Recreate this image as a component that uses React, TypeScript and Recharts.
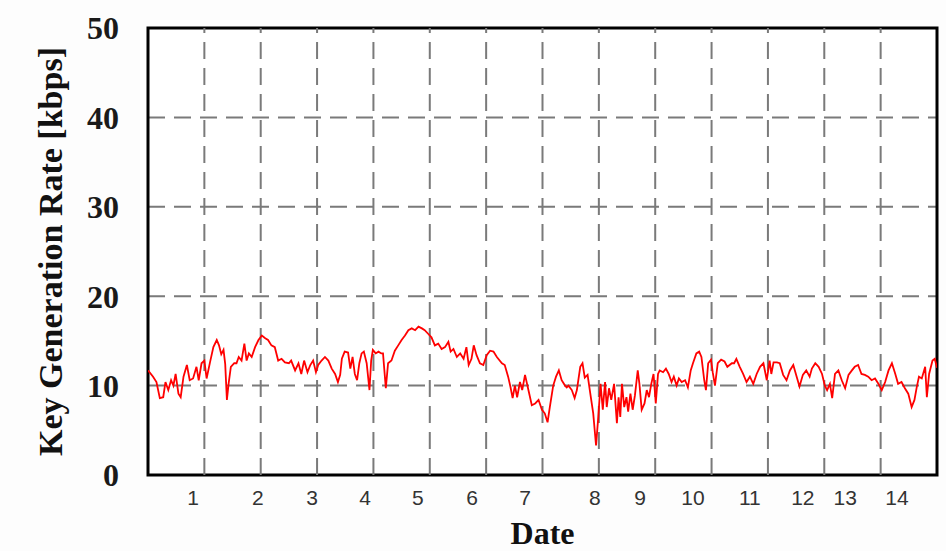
import {
  LineChart,
  Line,
  XAxis,
  YAxis,
  CartesianGrid,
  ReferenceArea,
  ReferenceLine,
} from 'recharts';

// Elapsed time (grid units) and key rate [kbps]
const elapsed = [
  0.0, 0.09, 0.15, 0.21, 0.27, 0.31, 0.36, 0.41, 0.45, 0.49, 0.54, 0.58, 0.63, 0.69, 0.74, 0.8,
  0.86, 0.9, 0.95, 1.0, 1.04, 1.1, 1.16, 1.22, 1.26, 1.3, 1.34, 1.37, 1.4, 1.43, 1.47, 1.53,
  1.57, 1.61, 1.66, 1.71, 1.75, 1.79, 1.84, 1.9, 1.96, 2.02, 2.08, 2.13, 2.19, 2.25, 2.31, 2.37,
  2.43, 2.5, 2.54, 2.61, 2.67, 2.72, 2.77, 2.83, 2.88, 2.93, 2.98, 3.02, 3.08, 3.14, 3.2, 3.26,
  3.32, 3.37, 3.41, 3.44, 3.49, 3.55, 3.59, 3.63, 3.67, 3.71, 3.75, 3.79, 3.83, 3.88, 3.93, 3.96,
  3.99, 4.04, 4.09, 4.14, 4.17, 4.22, 4.26, 4.32, 4.38, 4.44, 4.5, 4.56, 4.62, 4.68, 4.74, 4.8,
  4.86, 4.91, 4.97, 5.03, 5.09, 5.15, 5.21, 5.27, 5.33, 5.37, 5.42, 5.48, 5.54, 5.6, 5.65, 5.69,
  5.74, 5.78, 5.83, 5.89, 5.95, 6.01, 6.07, 6.13, 6.19, 6.28, 6.33, 6.39, 6.43, 6.47, 6.51, 6.55,
  6.6, 6.64, 6.69, 6.75, 6.81, 6.87, 6.93, 6.99, 7.04, 7.09, 7.13, 7.19, 7.24, 7.29, 7.34, 7.4,
  7.43, 7.46, 7.52, 7.57, 7.61, 7.67, 7.71, 7.75, 7.8, 7.86, 7.9, 7.95, 7.99, 8.03, 8.07, 8.11,
  8.14, 8.18, 8.22, 8.27, 8.32, 8.35, 8.38, 8.41, 8.45, 8.49, 8.52, 8.56, 8.6, 8.64, 8.69, 8.72,
  8.76, 8.81, 8.85, 8.89, 8.93, 8.97, 9.01, 9.05, 9.08, 9.14, 9.19, 9.24, 9.29, 9.33, 9.38, 9.42,
  9.47, 9.53, 9.58, 9.63, 9.67, 9.73, 9.78, 9.82, 9.87, 9.9, 9.94, 9.99, 10.02, 10.06, 10.11, 10.17,
  10.23, 10.28, 10.36, 10.4, 10.44, 10.5, 10.56, 10.62, 10.68, 10.74, 10.8, 10.86, 10.92, 10.98, 11.03, 11.06,
  11.1, 11.16, 11.21, 11.27, 11.33, 11.39, 11.45, 11.51, 11.56, 11.62, 11.68, 11.74, 11.78, 11.84, 11.9, 11.96,
  12.01, 12.05, 12.1, 12.14, 12.19, 12.25, 12.31, 12.37, 12.43, 12.49, 12.54, 12.6, 12.66, 12.72, 12.78, 12.84,
  12.9, 12.96, 13.02, 13.08, 13.14, 13.2, 13.26, 13.31, 13.37, 13.43, 13.49, 13.55, 13.6, 13.64, 13.68, 13.73,
  13.79, 13.82, 13.86, 13.92, 13.96, 14.0,
];

const keyRate = [
  11.7, 11.0, 10.4, 8.6, 8.7, 10.4, 9.5, 10.6, 10.0, 11.3, 9.1, 8.7, 11.0, 12.3, 10.6, 10.8,
  12.1, 10.6, 12.5, 12.8, 10.8, 12.6, 14.3, 15.1, 14.5, 13.5, 14.0, 12.4, 8.4, 10.2, 12.1, 12.5,
  12.5, 13.2, 12.8, 14.7, 12.8, 13.6, 13.2, 14.3, 15.1, 15.6, 15.3, 15.1, 14.5, 14.3, 12.8, 13.0,
  12.6, 12.5, 12.8, 11.7, 12.5, 11.3, 12.8, 11.5, 12.3, 12.8, 11.5, 12.3, 12.8, 13.2, 12.8, 11.9,
  11.3, 10.4, 11.2, 13.0, 13.8, 13.7, 11.9, 13.2, 11.3, 10.6, 12.5, 13.6, 13.8, 12.5, 9.5, 12.8,
  14.0, 13.6, 13.8, 13.6, 13.6, 9.7, 12.5, 12.8, 13.9, 14.5, 15.1, 15.6, 16.2, 16.4, 16.2, 16.6,
  16.4, 16.2, 15.8, 15.4, 14.5, 14.7, 14.1, 14.3, 14.9, 13.8, 14.1, 13.2, 13.6, 13.0, 14.3, 12.3,
  13.0, 14.5, 13.4, 12.5, 12.3, 13.4, 13.9, 13.8, 13.2, 12.5, 12.3, 11.0, 9.9, 8.6, 10.0, 8.7,
  10.4, 9.5, 11.2, 9.5, 7.8, 8.0, 8.4, 7.3, 6.9, 5.9, 7.6, 10.0, 11.0, 11.7, 10.6, 10.0,
  9.8, 10.0, 9.5, 8.6, 9.5, 12.1, 12.5, 10.9, 11.2, 8.6, 6.9, 3.3, 6.5, 10.2, 7.3, 10.4,
  7.6, 9.7, 8.4, 10.2, 5.8, 8.7, 6.5, 10.2, 7.6, 8.7, 7.1, 9.1, 7.3, 8.9, 11.7, 10.2,
  7.3, 8.0, 9.5, 8.7, 10.2, 11.3, 8.0, 11.3, 11.7, 11.5, 11.9, 11.3, 10.4, 11.0, 10.0, 10.8,
  10.4, 10.6, 9.8, 11.7, 12.5, 13.6, 13.8, 13.2, 10.6, 9.5, 12.5, 12.9, 11.5, 10.0, 12.5, 12.9,
  12.7, 12.1, 12.5, 12.5, 13.0, 12.1, 11.3, 10.4, 11.0, 10.2, 11.3, 12.1, 12.5, 10.6, 12.8, 11.3,
  12.6, 12.6, 12.5, 11.2, 10.6, 11.7, 12.3, 11.0, 9.9, 11.2, 11.7, 11.0, 11.9, 12.5, 12.1, 11.3,
  10.0, 9.5, 10.2, 8.6, 11.3, 11.7, 10.6, 9.7, 11.2, 11.7, 12.1, 12.3, 11.3, 11.2, 11.0, 10.6,
  10.8, 10.2, 9.5, 10.4, 11.7, 12.5, 11.3, 10.2, 10.4, 9.7, 9.1, 7.6, 8.4, 9.8, 11.0, 10.8,
  12.1, 8.7, 11.3, 12.8, 13.0, 12.0,
];

// Dashed grid divisions along the time axis (inner ones)
const gridDivisions = [1, 2, 3, 4, 5, 6, 7, 8, 9, 10, 11, 12, 13];

// Date labels and where they sit (they do not line up with the grid)
const dateLabels = ['1', '2', '3', '4', '5', '6', '7', '8', '9', '10', '11', '12', '13', '14'];
const dateLabelPos = [0.8, 1.95, 2.91, 3.85, 4.79, 5.75, 6.69, 7.93, 8.73, 9.67, 10.68, 11.62, 12.37, 13.29];

const rateTicks = [0, 10, 20, 30, 40, 50];

const data = elapsed.map((t, i) => ({ t, rate: keyRate[i] }));

const serif = 'Liberation Serif, Times New Roman, serif';

export default function App() {
  return (
    <div
      style={{
        position: 'absolute',
        left: 0,
        top: 0,
        width: 946,
        height: 551,
        background: '#fdfdfd',
      }}
    >
      <LineChart
        width={946}
        height={551}
        data={data}
        margin={{ top: 28, right: 9, bottom: 0, left: 0 }}
      >
        <CartesianGrid
          vertical={false}
          fill="#ffffff"
          stroke="#7a7a7a"
          strokeWidth={2}
          strokeDasharray="17 9"
        />
        <XAxis
          dataKey="t"
          type="number"
          domain={[0, 14]}
          allowDataOverflow
          ticks={dateLabelPos}
          interval={0}
          height={76}
          tickSize={0}
          tickMargin={15}
          tickLine={false}
          axisLine={false}
          tickFormatter={(v: number) => dateLabels[dateLabelPos.indexOf(v)]}
          tick={{ fill: '#333333', fontSize: 21, fontFamily: 'Liberation Sans, Arial, sans-serif' }}
          label={{
            value: 'Date',
            position: 'insideBottom',
            offset: 7,
            fill: '#111111',
            fontSize: 32,
            fontWeight: 'bold',
            fontFamily: serif,
          }}
        />
        <YAxis
          type="number"
          domain={[0, 50]}
          ticks={rateTicks}
          width={148}
          tickSize={0}
          tickMargin={29}
          tickLine={false}
          axisLine={false}
          tick={{ fill: '#1a1a1a', fontSize: 32, fontWeight: 'bold', fontFamily: serif }}
          label={{
            value: 'Key Generation Rate [kbps]',
            angle: -90,
            position: 'center',
            dx: -24,
            fill: '#111111',
            fontSize: 34,
            fontWeight: 'bold',
            fontFamily: serif,
          }}
        />
        {gridDivisions.map((d) => (
          <ReferenceLine
            key={d}
            x={d}
            stroke="#7a7a7a"
            strokeWidth={2}
            strokeDasharray="17 9"
          />
        ))}
        <Line
          type="linear"
          dataKey="rate"
          stroke="#ff0000"
          strokeWidth={1.8}
          dot={false}
          isAnimationActive={false}
        />
        {/* heavy black frame round the plot */}
        <ReferenceArea
          x1={0}
          x2={14}
          y1={0}
          y2={50}
          fill="none"
          stroke="#000000"
          strokeWidth={3}
        />
      </LineChart>
    </div>
  );
}
